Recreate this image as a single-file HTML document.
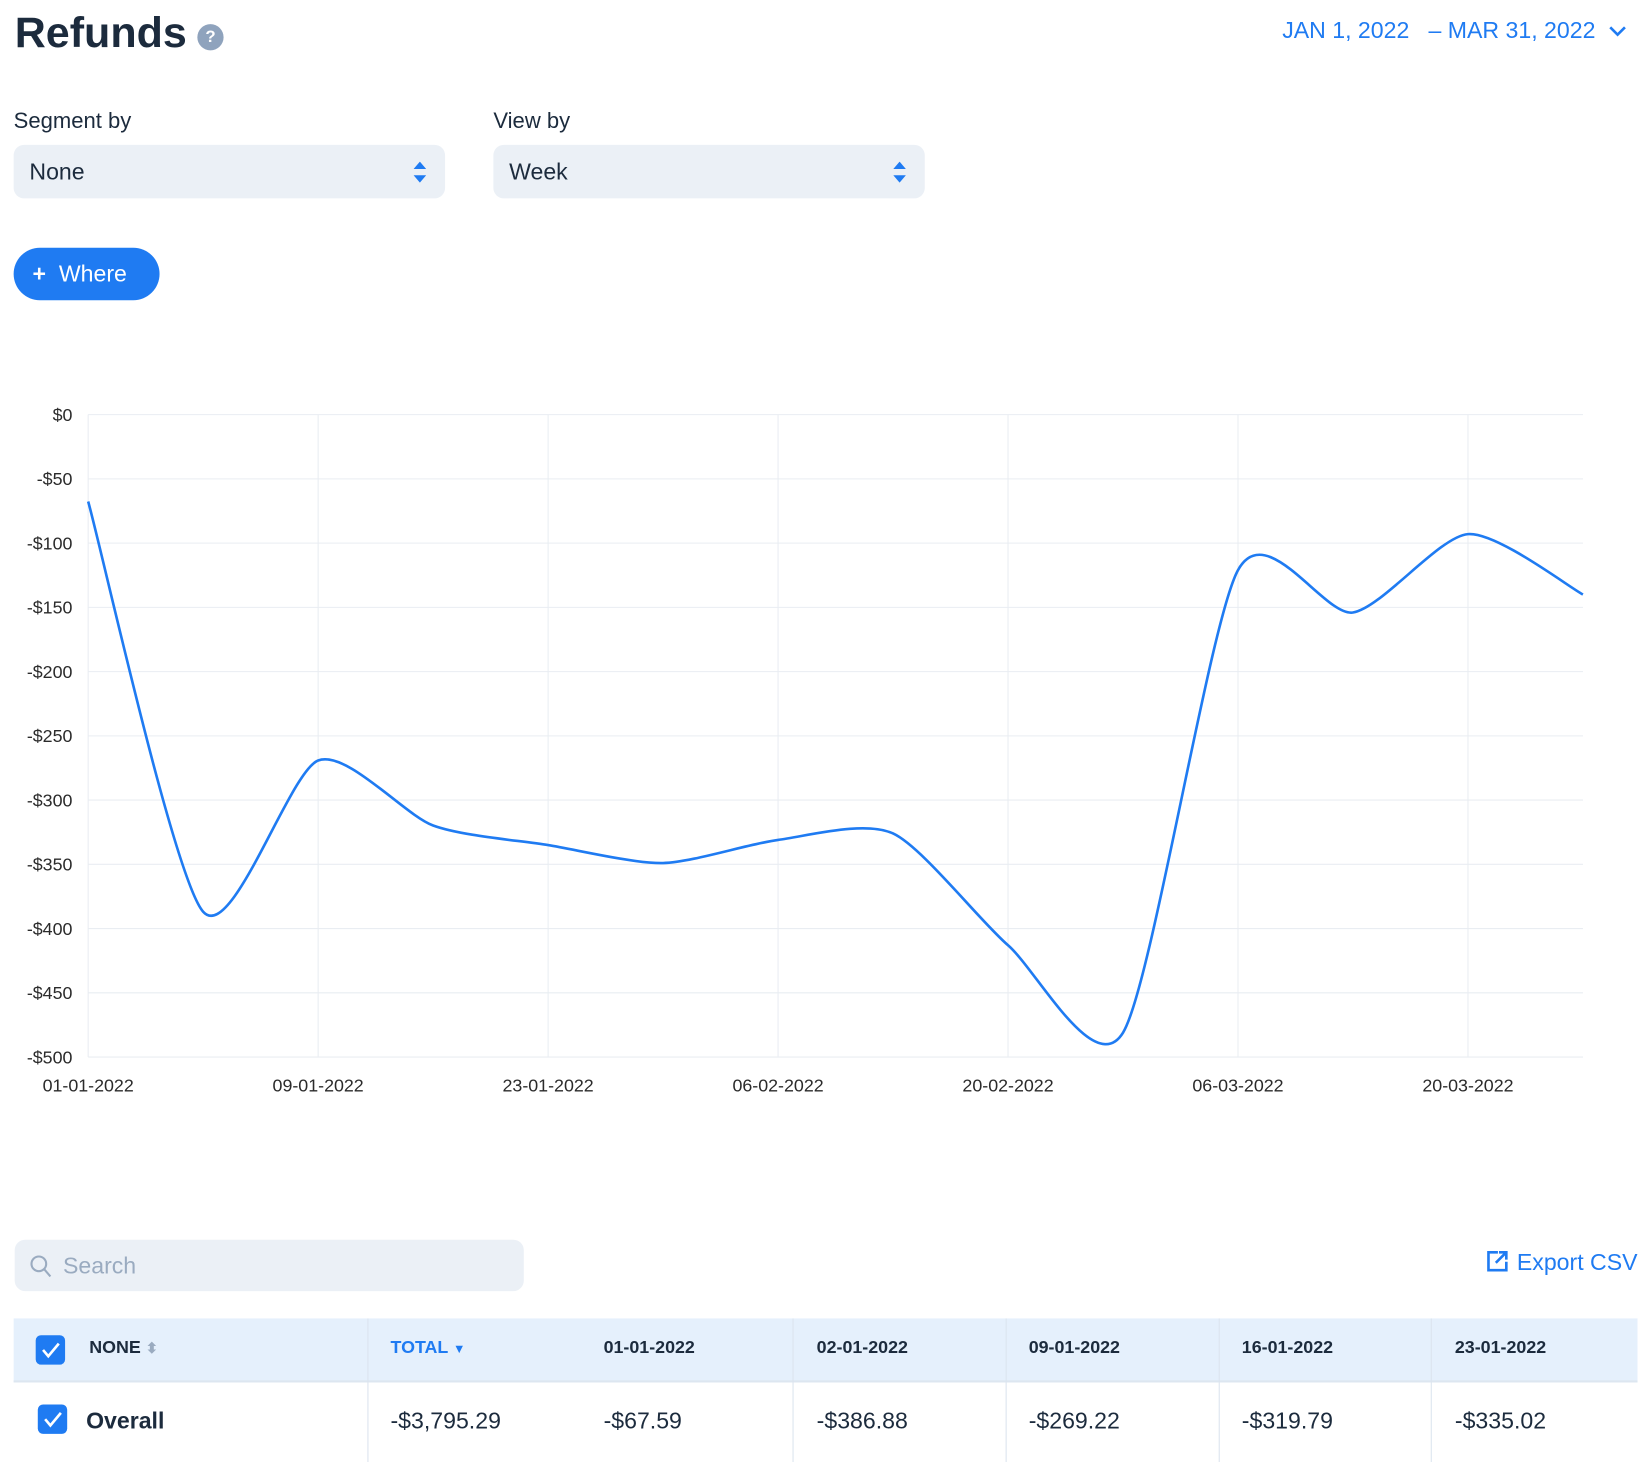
<!DOCTYPE html>
<html><head><meta charset="utf-8">
<style>
html,body{margin:0;padding:0;background:#fff;overflow:hidden}
body{width:1646px;height:1462px}
#wrap{position:absolute;left:0;top:0;width:1568px;height:1393px;transform:scale(1.0497);transform-origin:0 0;font-family:"Liberation Sans",sans-serif;color:#1c2b3d}
.abs{position:absolute}
.sel{background:#ebf0f6;border-radius:10px;height:51px;top:138px;width:411px}
.sel span{position:absolute;left:15px;top:13px;font-size:22px;color:#1c2b3d}
.arrows{position:absolute;right:18px;top:16px;width:12px;height:20px}
.col{position:absolute;top:0;height:137px;border-left:1px solid #dbe4ee}
.hd{position:absolute;top:18px;font-size:17px;font-weight:bold;color:#1c2b3d}
.cell{position:absolute;top:85px;font-size:22px;color:#1c2b3d}
.cb{position:absolute;width:28px;height:28px;background:#1f7bf2;border-radius:5px}
</style></head><body>
<div id="wrap">
<div class="abs" style="left:14px;top:8px;font-size:41px;font-weight:bold;color:#1c2b3d">Refunds</div>
<div class="abs" style="left:188px;top:23px;width:25px;height:25px;border-radius:50%;background:#8fa3bd;color:#fff;font-size:16px;font-weight:bold;text-align:center;line-height:25px">?</div>
<div class="abs" style="right:18px;top:16px;font-size:22px;color:#1f7bf2">JAN 1, 2022 &nbsp; – MAR 31, 2022 <svg width="18" height="12" style="margin-left:6px"><path d="M2 2 L9 9 L16 2" fill="none" stroke="#1f7bf2" stroke-width="2.5"/></svg></div>

<div class="abs" style="left:13px;top:104px;font-size:21px">Segment by</div>
<div class="abs sel" style="left:13px"><span>None</span><svg class="arrows"><path d="M6 0 L12 7 L0 7Z M6 20 L12 13 L0 13Z" fill="#1f7bf2"/></svg></div>
<div class="abs" style="left:470px;top:104px;font-size:21px">View by</div>
<div class="abs sel" style="left:470px"><span>Week</span><svg class="arrows"><path d="M6 0 L12 7 L0 7Z M6 20 L12 13 L0 13Z" fill="#1f7bf2"/></svg></div>

<div class="abs" style="left:13px;top:236px;width:139px;height:50px;border-radius:25px;background:#1f7bf2;color:#fff;font-size:22px;line-height:50px"><span style="margin-left:18px;font-weight:bold">+</span>&nbsp; Where</div>

<svg class="abs" id="chart" style="left:0;top:370px" width="1568" height="700"></svg>

<div class="abs" style="left:14px;top:1181px;width:485px;height:49px;background:#ebf0f6;border-radius:10px">
<svg class="abs" style="left:14px;top:14px" width="22" height="24"><circle cx="9" cy="9" r="7" fill="none" stroke="#9aabc0" stroke-width="2"/><path d="M14 14 L20 21" stroke="#9aabc0" stroke-width="2"/></svg>
<span class="abs" style="left:46px;top:12px;font-size:22px;color:#9aabc0">Search</span></div>
<div class="abs" style="right:8px;top:1189px;font-size:22px;color:#1f7bf2"><svg width="24" height="24" style="vertical-align:-3px"><path d="M12 4 H3 V21 H20 V13" fill="none" stroke="#1f7bf2" stroke-width="2.5"/><path d="M10 14 L19 5 M13 4 H20 V11" fill="none" stroke="#1f7bf2" stroke-width="2.5"/></svg> Export CSV</div>

<div class="abs" style="left:13px;top:1256px;width:1547px;height:137px">
<div class="abs" style="left:0;top:0;width:1547px;height:59px;background:#e5f0fc;border-bottom:2px solid #dde6f0"></div>
<div class="col" style="left:337px"></div><div class="col" style="left:540px;border-left:none"></div><div class="col" style="left:742px"></div><div class="col" style="left:945px"></div><div class="col" style="left:1148px"></div><div class="col" style="left:1350px"></div>
<div class="cb" style="left:21px;top:16px"><svg width="28" height="28"><path d="M7 14 L12 20 L22 8" fill="none" stroke="#fff" stroke-width="2.5"/></svg></div>
<div class="hd" style="left:72px">NONE <span style="color:#9aabc0;font-size:14px">⬍</span></div>
<div class="hd" style="left:359px;color:#1f7bf2">TOTAL <span style="font-size:12px">▼</span></div>
<div class="hd" style="left:562px">01-01-2022</div>
<div class="hd" style="left:765px">02-01-2022</div>
<div class="hd" style="left:967px">09-01-2022</div>
<div class="hd" style="left:1170px">16-01-2022</div>
<div class="hd" style="left:1373px">23-01-2022</div>
<div class="cb" style="left:23px;top:82px"><svg width="28" height="28"><path d="M7 14 L12 20 L22 8" fill="none" stroke="#fff" stroke-width="2.5"/></svg></div>
<div class="cell" style="left:69px;font-weight:bold">Overall</div>
<div class="cell" style="left:359px">-$3,795.29</div>
<div class="cell" style="left:562px">-$67.59</div>
<div class="cell" style="left:765px">-$386.88</div>
<div class="cell" style="left:967px">-$269.22</div>
<div class="cell" style="left:1170px">-$319.79</div>
<div class="cell" style="left:1373px">-$335.02</div>
</div>
</div>
<script>
const categories=["01-01-2022","02-01-2022","09-01-2022","16-01-2022","23-01-2022","30-01-2022","06-02-2022","13-02-2022","20-02-2022","27-02-2022","06-03-2022","13-03-2022","20-03-2022","27-03-2022"];
const refunds=[-67.59,-386.88,-269.22,-319.79,-335.02,-349,-331,-326,-413,-481,-121,-154,-93,-140];
const yTicks=[0,-50,-100,-150,-200,-250,-300,-350,-400,-450,-500];
const xTickLabels=["01-01-2022","09-01-2022","23-01-2022","06-02-2022","20-02-2022","06-03-2022","20-03-2022"];
const NS="http://www.w3.org/2000/svg";
const svg=document.getElementById('chart');
const X0=84,X1=1508,Y0=25,Y1=637;
function xs(i){return X0+(X1-X0)*i/(categories.length-1);}
function ys(v){return Y0+(Y1-Y0)*(0-v)/500;}
function mk(t,a){const e=document.createElementNS(NS,t);for(const k in a)e.setAttribute(k,a[k]);svg.appendChild(e);return e;}
yTicks.forEach(v=>{
 const l=mk('line',{x1:X0,x2:X1,y1:ys(v),y2:ys(v),stroke:'#e9edf2','stroke-width':1});
 
 
 const t=mk('text',{x:X0-15,y:ys(v)+6,'text-anchor':'end','font-size':17,fill:'#2b2b2b','font-family':'Liberation Sans, sans-serif'});
 t.textContent=(v<0?'-$':'$')+Math.abs(v);
 
 
});
xTickLabels.forEach(lab=>{
 const i=categories.indexOf(lab);
 const l=mk('line',{x1:xs(i),x2:xs(i),y1:Y0,y2:Y1,stroke:'#e9edf2','stroke-width':1});
 
 
 const t=mk('text',{x:xs(i),y:Y1+33,'text-anchor':'middle','font-size':17,fill:'#2b2b2b','font-family':'Liberation Sans, sans-serif'});
 t.textContent=lab;
 
 
});
const P=refunds.map((v,i)=>[xs(i),ys(v)]);
let d='M'+P[0][0]+','+P[0][1];
for(let i=0;i<P.length-1;i++){
 const p0=P[Math.max(0,i-1)],p1=P[i],p2=P[i+1],p3=P[Math.min(P.length-1,i+2)];
 const k=1/8;
 d+=' C'+(p1[0]+(p2[0]-p0[0])*k)+','+(p1[1]+(p2[1]-p0[1])*k)+' '+(p2[0]-(p3[0]-p1[0])*k)+','+(p2[1]-(p3[1]-p1[1])*k)+' '+p2[0]+','+p2[1];
}
const path=mk('path',{d:d,fill:'none',stroke:'#1f7bf2','stroke-width':2.5});


</script>
</body></html>
